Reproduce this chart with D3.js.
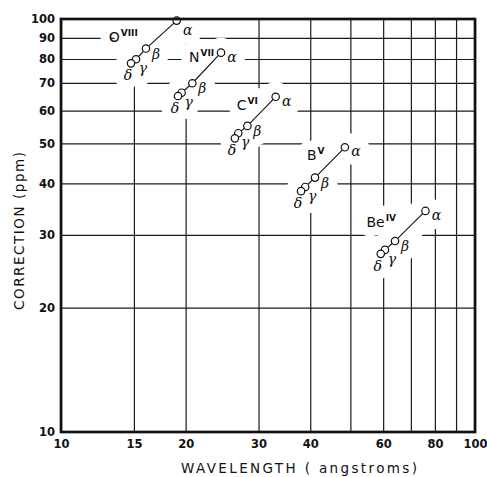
<!DOCTYPE html>
<html>
<head>
<meta charset="utf-8">
<script src="https://cdn.jsdelivr.net/npm/d3@7"></script>
<style>
  body { margin: 0; background: #fff; }
  svg { display: block; }
</style>
</head>
<body>
<div class="chart"></div>
<script>
// values
const ions = ["O", "N", "C", "B", "Be"];
const charges = ["VIII", "VII", "VI", "V", "IV"];
const lineNames = ["α", "β", "γ", "δ"];
// wavelength (angstroms): alpha, beta, gamma, delta
const wavelengths = [
  [19.03, 16.04, 15.18, 14.76],
  [24.35, 20.76, 19.56, 19.17],
  [33.0, 28.2, 26.8, 26.3],
  [48.5, 41.07, 38.9, 38.0],
  [75.9, 64.1, 60.6, 59.2]
];
// correction (ppm)
const corrections = [
  [99.1, 84.8, 79.9, 78.1],
  [82.9, 69.9, 66.3, 65.1],
  [64.8, 55.1, 52.9, 51.4],
  [48.9, 41.3, 39.2, 38.3],
  [34.3, 29.0, 27.6, 27.0]
];
const xTicks = [10, 15, 20, 30, 40, 50, 60, 70, 80, 90, 100];
const xTickLabels = [10, 15, 20, 30, 40, 60, 80, 100];
const yTicks = [10, 20, 30, 40, 50, 60, 70, 80, 90, 100];

// layout
const W = 487, H = 477;
const margin = {top: 19, right: 12, bottom: 45, left: 61};
const width = W - margin.left - margin.right;
const height = H - margin.top - margin.bottom;

// ion label position relative to the alpha point
const ionLabelOffset = {
  O: [-68, 21], N: [-32, 9], C: [-39, 13], B: [-38, 13], Be: [-59, 16]
};
// greek letter offsets relative to each point
const greekOffset = [[11, 4], [10, 5], [7, 9], [-3, 12]];
const lineHalo = 30, textHalo = 18;

const svg = d3.select('div.chart').append('svg')
  .attr('width', W)
  .attr('height', H);

const g = svg.append('g')
  .attr('transform', `translate(${margin.left},${margin.top})`);

const x = d3.scaleLog().domain([10, 100]).range([0, width]);
const y = d3.scaleLog().domain([10, 100]).range([height, 0]);

// grid + tick labels
const xAxis = g.append('g')
  .attr('transform', `translate(0,${height})`)
  .call(d3.axisBottom(x)
    .tickValues(xTicks)
    .tickSize(-height)
    .tickPadding(8)
    .tickFormat(d => xTickLabels.includes(d) ? d : ''));

const yAxis = g.append('g')
  .call(d3.axisLeft(y)
    .tickValues(yTicks)
    .tickSize(-width)
    .tickPadding(6)
    .tickFormat(d => d));

[xAxis, yAxis].forEach(a => {
  a.select('.domain').remove();
  a.selectAll('line').attr('stroke', '#1a1a1a').attr('stroke-width', 1.2);
  a.selectAll('text')
    .attr('font-family', '"DejaVu Sans", sans-serif')
    .attr('font-size', '11.5px')
    .attr('font-weight', 'bold')
    .attr('fill', '#111');
});

const groups = ions.map((ion, i) => ({
  ion: ion,
  charge: charges[i],
  pts: lineNames.map((name, j) => ({
    name: name, j: j, wl: wavelengths[i][j], c: corrections[i][j]
  }))
}));

const lineGen = d3.line().x(d => x(d.wl)).y(d => y(d.c));

// white knock-outs break the grid around each annotation
const halo = g.append('g');
const marks = g.append('g');

groups.forEach(grp => {
  let a = grp.pts[0];
  let ax = x(a.wl), ay = y(a.c);
  let off = ionLabelOffset[grp.ion];

  halo.append('path')
    .attr('d', lineGen(grp.pts))
    .attr('fill', 'none')
    .attr('stroke', '#fff')
    .attr('stroke-width', lineHalo)
    .attr('stroke-linecap', 'round');

  [halo, marks].forEach((layer, k) => {
    let t = layer.append('text')
      .attr('x', ax + off[0])
      .attr('y', ay + off[1])
      .attr('font-family', '"DejaVu Sans", sans-serif')
      .attr('font-size', '14px')
      .attr('fill', '#111');
    t.append('tspan').text(grp.ion);
    t.append('tspan')
      .attr('dy', -6).attr('dx', 1)
      .attr('font-size', '9px').attr('font-weight', 'bold')
      .text(grp.charge);
    if (k === 0) t.attr('stroke', '#fff').attr('stroke-width', textHalo).attr('stroke-linejoin', 'round');
  });

  grp.pts.forEach(p => {
    let px = x(p.wl), py = y(p.c);
    let o = greekOffset[p.j];
    let oy = (grp.ion === 'O' && p.j === 0) ? 9 : o[1];
    [halo, marks].forEach((layer, k) => {
      let t = layer.append('text')
        .attr('x', px + o[0]).attr('y', py + oy)
        .attr('text-anchor', 'middle')
        .attr('dominant-baseline', 'central')
        .attr('font-family', '"DejaVu Serif", serif')
        .attr('font-style', 'italic')
        .attr('font-size', '14px')
        .attr('fill', '#111')
        .text(p.name);
      if (k === 0) t.attr('stroke', '#fff').attr('stroke-width', textHalo).attr('stroke-linejoin', 'round');
    });
  });

  marks.append('path')
    .attr('d', lineGen(grp.pts))
    .attr('fill', 'none').attr('stroke', '#111').attr('stroke-width', 1.1);

  marks.selectAll(null)
    .data(grp.pts)
    .enter().append('circle')
    .attr('cx', d => x(d.wl)).attr('cy', d => y(d.c))
    .attr('r', 3.7)
    .attr('fill', '#fff').attr('stroke', '#111').attr('stroke-width', 1.2);
});

// heavy frame
g.append('rect')
  .attr('width', width).attr('height', height)
  .attr('fill', 'none').attr('stroke', '#111').attr('stroke-width', 2.7);

// axis titles
svg.append('text')
  .attr('x', margin.left + 238).attr('y', 473)
  .attr('text-anchor', 'middle')
  .attr('font-family', '"DejaVu Sans", sans-serif')
  .attr('font-size', '13.5px').attr('fill', '#111')
  .attr('textLength', 236).attr('lengthAdjust', 'spacing')
  .text('WAVELENGTH ( angstroms)');

svg.append('text')
  .attr('transform', 'translate(24,231) rotate(-90)')
  .attr('text-anchor', 'middle')
  .attr('font-family', '"DejaVu Sans", sans-serif')
  .attr('font-size', '13.5px').attr('fill', '#111')
  .attr('textLength', 158).attr('lengthAdjust', 'spacing')
  .text('CORRECTION (ppm)');
</script>
</body>
</html>
